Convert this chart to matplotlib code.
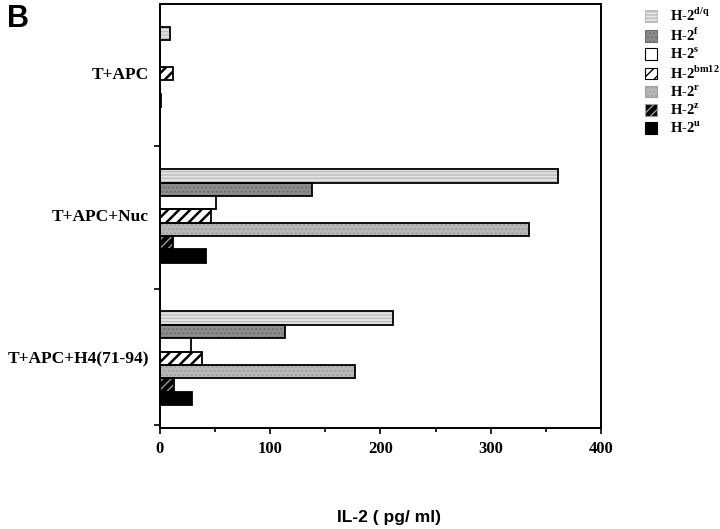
import numpy as np
import matplotlib
matplotlib.use("Agg")
import matplotlib.pyplot as plt

plt.rcParams["font.family"] = ["Liberation Serif", "DejaVu Serif"]
plt.rcParams["font.weight"] = "bold"
plt.rcParams["mathtext.fontset"] = "custom"
plt.rcParams["mathtext.rm"] = "Liberation Serif:bold"

# data
groups = ["T+APC", "T+APC+Nuc", "T+APC+H4(71-94)"]
haplotypes = ["d/q", "f", "s", "bm12", "r", "z", "u"]
il2 = {
    "d/q":  [9, 361, 211],
    "f":    [0, 138, 113],
    "s":    [0, 51, 28],
    "bm12": [12, 46, 38],
    "r":    [0, 335, 177],
    "z":    [1, 12, 13],
    "u":    [0, 42, 29],
}

# (face, hatch, hatch colour, hatch width) for each series
styles = {
    "d/q":  ("#e4e4e4", "-----", "#bdbdbd", 1.0),
    "f":    ("#8c8c8c", "....", "#6e6e6e", 1.0),
    "s":    ("white", None, None, 1.0),
    "bm12": ("white", "///", "black", 1.8),
    "r":    ("#b9b9b9", "....", "#a0a0a0", 1.0),
    "z":    ("black", "////", "#9a9a9a", 1.0),
    "u":    ("black", None, None, 1.0),
}

fig = plt.figure(figsize=(7.2, 5.29), dpi=100)
ax = fig.add_axes([0.2222, 0.1909, 0.6125, 0.8015])

y = np.arange(len(groups))
bar_h = 0.094
n = len(haplotypes)
handles = []
for i, hap in enumerate(haplotypes):
    face, hatch, hcol, hw = styles[hap]
    pos = y - 0.01 + (i - (n - 1) / 2) * bar_h
    with plt.rc_context({"hatch.linewidth": hw}):
        if hatch:
            ax.barh(pos, il2[hap], height=bar_h, color=face, hatch=hatch,
                    edgecolor=hcol, linewidth=0, zorder=2)
            ax.barh(pos, il2[hap], height=bar_h, facecolor="none",
                    edgecolor="black", linewidth=1.3, zorder=3)
        else:
            ax.barh(pos, il2[hap], height=bar_h, facecolor=face,
                    edgecolor="black", linewidth=1.3, zorder=3)
        h = plt.Rectangle((0, 0), 1, 1, facecolor=face, hatch=hatch,
                          edgecolor=hcol if hatch else "black", linewidth=0.8)
    handles.append(h)

ax.set_xlim(0, 400)
ax.set_ylim(2.48, -0.5)
ax.set_xticks([0, 100, 200, 300, 400])
ax.set_xticks([50, 150, 250, 350], minor=True)
ax.set_yticks([0.5, 1.5, 2.46])
ax.set_yticklabels([])
ax.tick_params(axis="x", which="major", length=4, width=1.2, labelsize=12, pad=5)
ax.tick_params(axis="x", which="minor", length=3, width=1.2)
ax.tick_params(axis="y", length=4, width=1.2)
for lab in ax.get_xticklabels():
    lab.set_fontweight("bold")
for s in ax.spines.values():
    s.set_linewidth(1.4)

for gy, name in zip(y, groups):
    ax.text(-0.025, gy, name, transform=ax.get_yaxis_transform(),
            ha="right", va="center", fontsize=12.5, fontweight="bold")

labels = [r"H-2$^{\mathrm{%s}}$" % h for h in haplotypes]
fig.legend(handles, labels, loc="upper left", bbox_to_anchor=(0.878, 1.012),
           frameon=False, handlelength=0.8, handleheight=0.8,
           handletextpad=0.9, labelspacing=0.18,
           prop={"weight": "bold", "size": 10.5})

fig.text(0.54, 0.008, "IL-2 ( pg/ ml)", ha="center", va="bottom",
         fontsize=12.5, fontweight="bold", family=["Liberation Sans", "DejaVu Sans"])
fig.text(0.01, 0.992, "B", ha="left", va="top", fontsize=22,
         fontweight="bold", family=["Liberation Sans", "DejaVu Sans"])

fig.savefig("out.png", dpi=100)
